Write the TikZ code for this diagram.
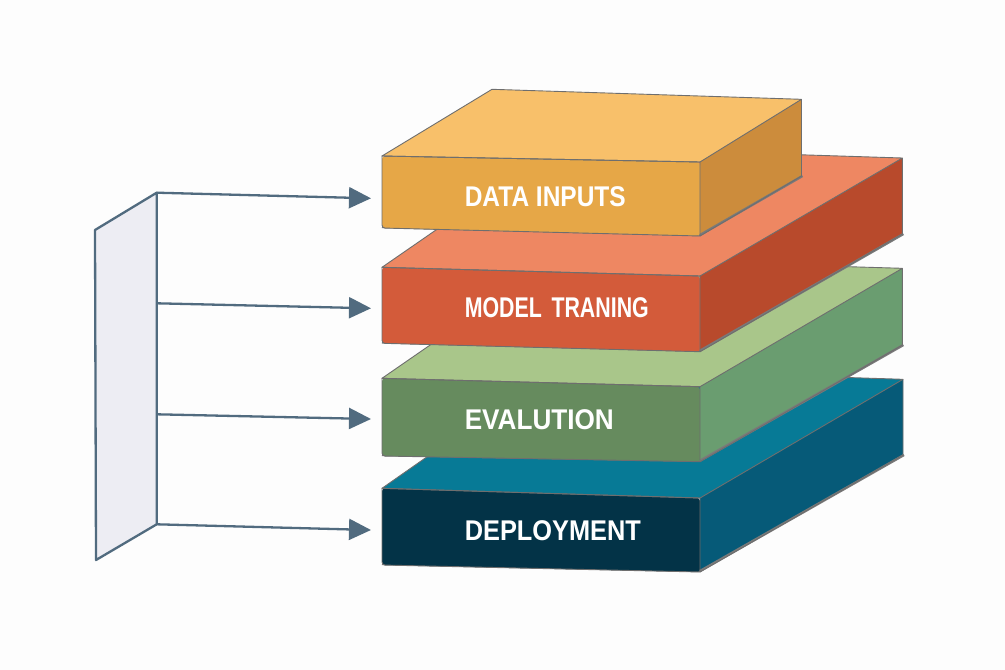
\documentclass[tikz,border=0pt]{standalone}
\usepackage{fontspec}
\usepackage{graphicx}
\newfontfamily\labelfont{Liberation Sans}
\usetikzlibrary{arrows.meta}
\definecolor{bg}{HTML}{FDFDFD}
\definecolor{edge}{HTML}{6E6E6E}
\definecolor{shadowc}{HTML}{7A7A7A}
\definecolor{linkc}{HTML}{516B7F}
\definecolor{panelc}{HTML}{EDEDF3}
\definecolor{otop}{HTML}{F8C06A}
\definecolor{oside}{HTML}{CC8C3C}
\definecolor{ofront}{HTML}{E6A747}
\definecolor{rtop}{HTML}{EE8762}
\definecolor{rside}{HTML}{B84A2C}
\definecolor{rfront}{HTML}{D35B3A}
\definecolor{gtop}{HTML}{A9C68A}
\definecolor{gside}{HTML}{6A9D70}
\definecolor{gfront}{HTML}{668B5E}
\definecolor{btop}{HTML}{077A96}
\definecolor{bside}{HTML}{065A78}
\definecolor{bfront}{HTML}{033347}
\newcommand\slabdraw[4]{%
  \fill[#2] (#1p1) -- (#1p2) -- (#1q2) -- (#1q1) -- cycle;
  \fill[#3] (#1p2) -- (#1q2) -- (#1q3) -- (#1p3) -- cycle;
  \draw[shadowc, line width=2.4pt] ([yshift=1pt]#1p4) -- ([yshift=1pt]#1p3) -- ([xshift=1pt]#1q3);
  \fill[#4, rounded corners=3pt] (#1p2) -- (#1p1) -- (#1p4) -- (#1p3) -- cycle;
  \draw[edge, line width=0.9pt, line join=round] (#1p1) -- (#1q1) -- (#1q2) -- (#1p2) -- cycle;
  \draw[edge, line width=0.9pt, line join=round] (#1q2) -- (#1q3) -- (#1p3);
  \draw[edge, line width=0.9pt, line join=round] (#1p2) -- (#1p1) [rounded corners=3pt] -- (#1p4) [sharp corners] -- (#1p3) -- cycle;
}
\newcommand\lbltext[2]{\resizebox{#1}{\height}{\labelfont\bfseries\fontsize{28.5pt}{30pt}\selectfont #2}}
\tikzset{
  lbl/.style={text=white, inner sep=0pt, anchor=base west},
  link/.style={linkc, line width=2.3pt, -{Triangle[length=22pt,width=21pt]}},
}
\begin{document}
\begin{tikzpicture}[x=1pt,y=-1pt]
\useasboundingbox (0,0) rectangle (1005,670);
\fill[bg] (0,0) rectangle (1005,670);
% blue slab
\coordinate (bp1) at (382,488.3); \coordinate (bp2) at (700,498);
\coordinate (bp3) at (700,572);   \coordinate (bp4) at (382,565);
\coordinate (bq1) at (554,368);   \coordinate (bq2) at (903,379.3);
\coordinate (bq3) at (903,455);
% green slab
\coordinate (gp1) at (382,378.3); \coordinate (gp2) at (700,386.7);
\coordinate (gp3) at (700,461.7); \coordinate (gp4) at (382,456);
\coordinate (gq1) at (556,258);   \coordinate (gq2) at (902.4,268.3);
\coordinate (gq3) at (902.4,345);
% red slab
\coordinate (rp1) at (382,267.3); \coordinate (rp2) at (700,276);
\coordinate (rp3) at (700,351.7); \coordinate (rp4) at (382,343.3);
\coordinate (rq1) at (556,147);   \coordinate (rq2) at (902.4,158);
\coordinate (rq3) at (902.4,234);
% orange slab
\coordinate (op1) at (382,156);   \coordinate (op2) at (700,162);
\coordinate (op3) at (700,236);   \coordinate (op4) at (382,228);
\coordinate (oq1) at (492,89.3);  \coordinate (oq2) at (801.5,99.3);
\coordinate (oq3) at (801.5,176);
\slabdraw{b}{btop}{bside}{bfront}
\slabdraw{g}{gtop}{gside}{gfront}
\slabdraw{r}{rtop}{rside}{rfront}
\slabdraw{o}{otop}{oside}{ofront}
% labels
\node[lbl] (t1) at (464.6,206.7) {\lbltext{161pt}{DATA INPUTS}};
\node[lbl] (t2) at (464.6,317.3) {\lbltext{184pt}{MODEL\hspace{0.45em}TRANING}};
\node[lbl] (t3) at (464.6,429.3) {\lbltext{149pt}{EVALUTION}};
\node[lbl] (t4) at (464.6,540)   {\lbltext{176pt}{DEPLOYMENT}};
% left panel
\coordinate (ptl) at (95,230);
\coordinate (ptr) at (156.7,192.7);
\coordinate (pbr) at (156.7,524.3);
\coordinate (pbl) at (96,560);
\draw[linkc, fill=panelc, line width=2.3pt, line join=round] (ptl) -- (ptr) -- (pbr) -- (pbl) -- cycle;
% arrows
\coordinate (a1s) at (156.7,192.7); \coordinate (a1e) at (371,198.3);
\coordinate (a2s) at (156.7,303.3); \coordinate (a2e) at (371,308.3);
\coordinate (a3s) at (156.7,414.3); \coordinate (a3e) at (371,419);
\coordinate (a4s) at (156.7,524.3); \coordinate (a4e) at (371,530);
\draw[link] (a1s) -- (a1e);
\draw[link] (a2s) -- (a2e);
\draw[link] (a3s) -- (a3e);
\draw[link] (a4s) -- (a4e);
\end{tikzpicture}
\end{document}
